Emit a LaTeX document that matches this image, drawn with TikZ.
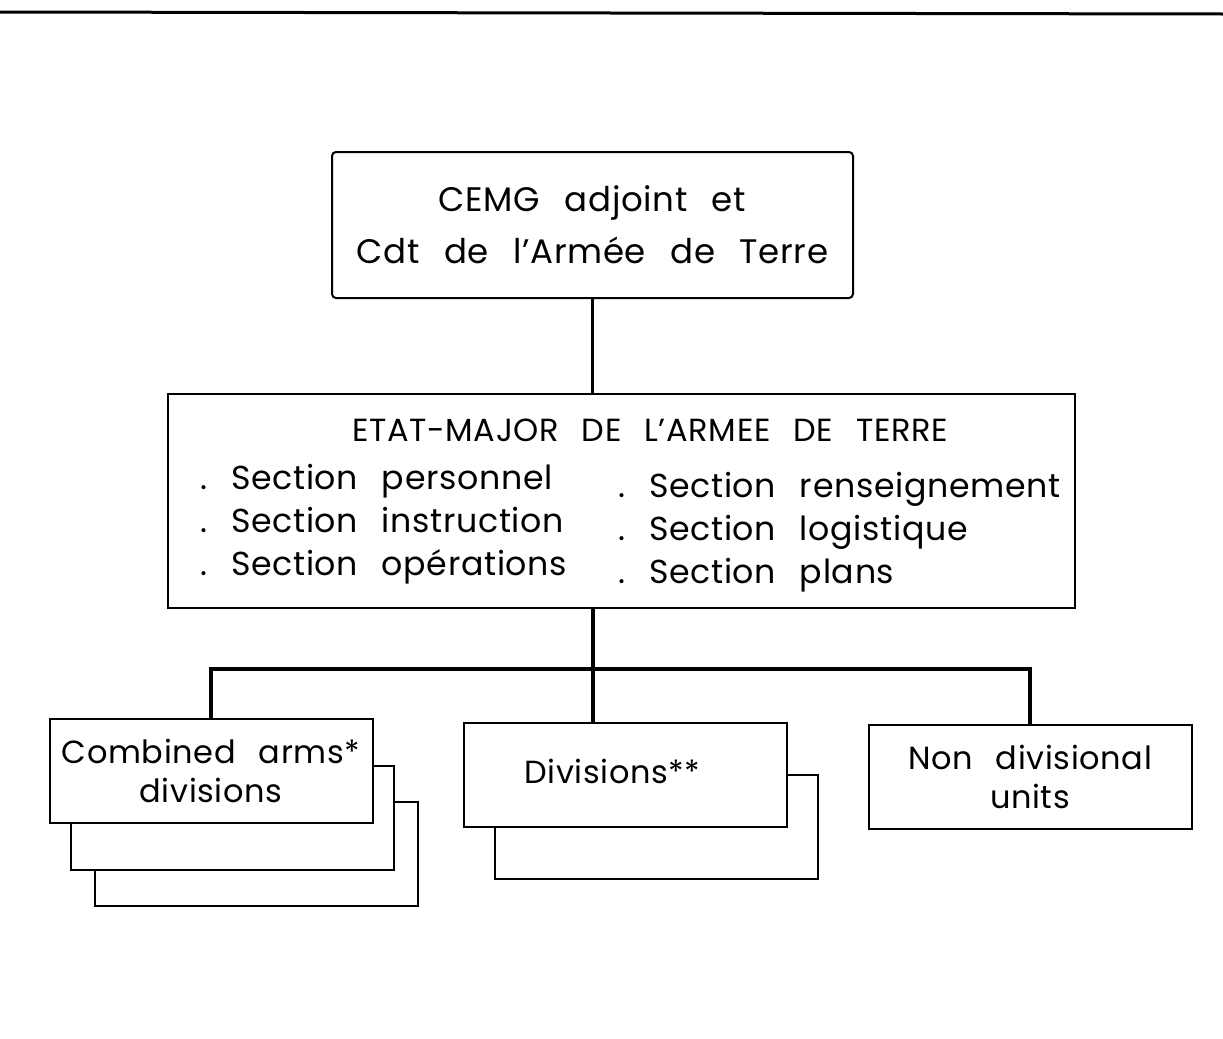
\documentclass[tikz,border=0pt]{standalone}
\usepackage{fontspec}
\setmainfont{Poppins}[LetterSpace=2,WordSpace=2.5]
\usetikzlibrary{positioning}

\begin{document}
\begin{tikzpicture}[
  x=0.5pt,y=-0.5pt,
  box/.style={draw,line width=1pt,fill=white,inner sep=0pt,align=center},
  unit/.style={box,minimum width=161.5pt,minimum height=52pt,font=\fontsize{16}{19.5}\selectfont},
  sec/.style={anchor=west,align=left,inner sep=0pt,font=\fontsize{16.6}{21.5}\selectfont},
  link/.style={line width=1.6pt}
]
  \useasboundingbox (0,0) rectangle (1223,1039);
  \draw[line width=1.5pt] (0,12) -- (1223,14);

  % command
  \node[box,rounded corners=2pt,minimum width=260.5pt,minimum height=73pt,
        font=\fontsize{17}{26}\selectfont] (cemg) at (592.5,225) {CEMG adjoint et\\Cdt de l'Armée de Terre};

  % staff
  \node[box,minimum width=453.5pt,minimum height=107pt] (etat) at (621.5,501) {};
  \node[inner sep=0pt,font=\fontsize{16}{18}\selectfont] (etattitle) at (650,430) {ETAT-MAJOR DE L'ARMEE DE TERRE};
  \node[sec] (secleft) at (200,524) {.\ Section personnel\\.\ Section instruction\\.\ Section opérations};
  \node[sec] (secright) at (618,532) {.\ Section renseignement\\.\ Section logistique\\.\ Section plans};

  % units
  \node[unit] (comb3) at (256,853.5) {};
  \node[unit] (comb2) at (232.5,818) {};
  \node[unit] (comb) at (211,770.5) {Combined arms*\\divisions};
  \node[unit] (div2) at (656,826.5) {};
  \node[unit] (div) at (625.5,775) {\raisebox{4pt}{Divisions**}\hspace*{13pt}};
  \node[unit] (nondiv) at (1030,776.5) {Non divisional\\units};

  \coordinate (trunk) at (593,669);
  \draw[link] (cemg.south) -- (cemg.south |- etat.north);
  \draw[link] (trunk |- etat.south) -- (trunk |- div.north);
  \draw[link] (comb.north) -- (comb.north |- trunk) -- (nondiv.north |- trunk) -- (nondiv.north);
\end{tikzpicture}
\end{document}
